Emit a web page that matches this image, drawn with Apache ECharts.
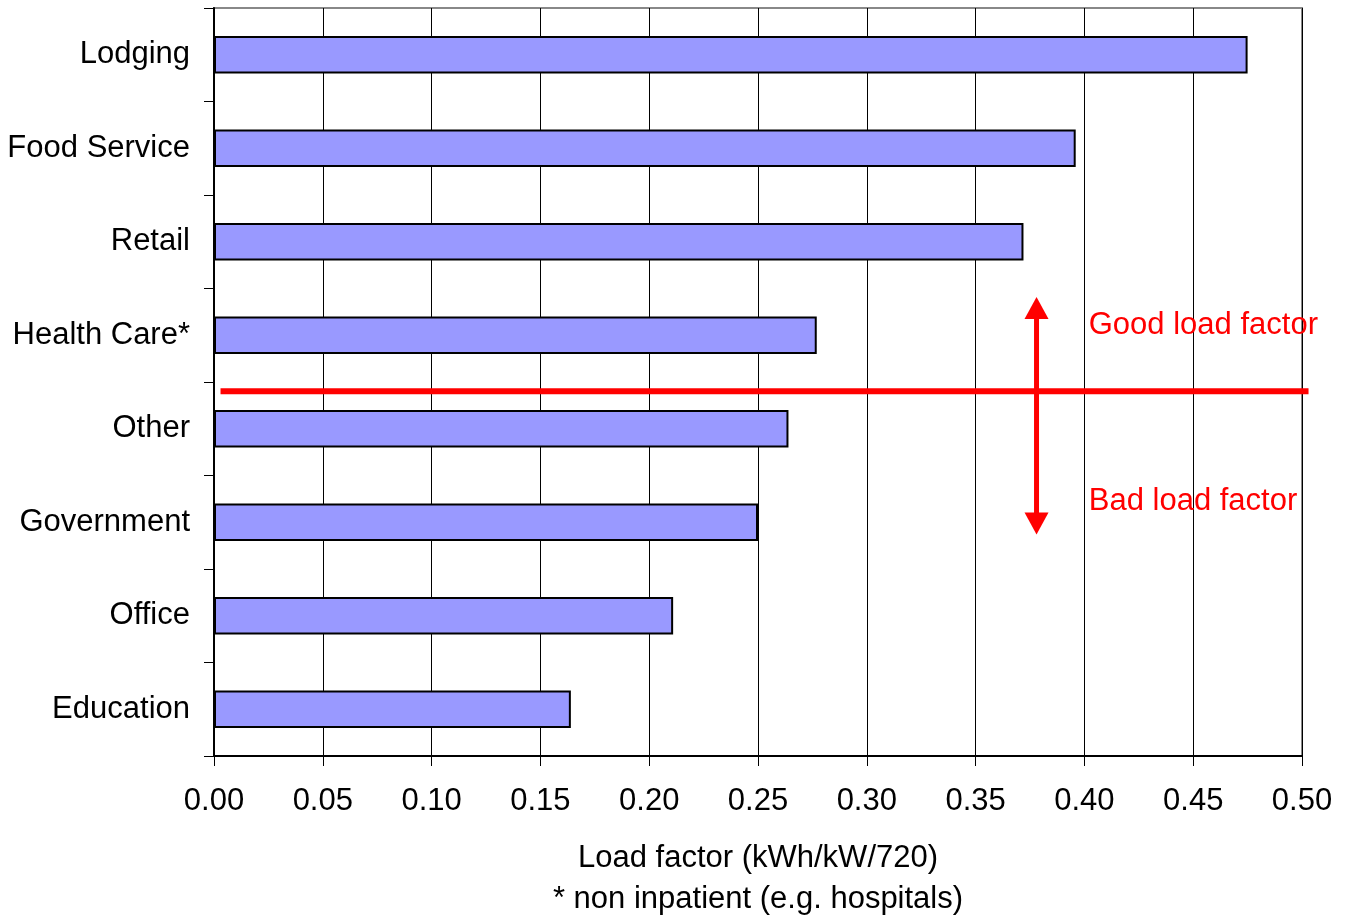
<!DOCTYPE html>
<html>
<head>
<meta charset="utf-8">
<script src="https://cdn.jsdelivr.net/npm/echarts@6/dist/echarts.min.js"></script>
<style>html,body{margin:0;padding:0;background:#fff}#c{width:1347px;height:916px}</style>
</head>
<body>
<div id="c"></div>
<script>
var categories = ['Lodging', 'Food Service', 'Retail', 'Health Care*', 'Other', 'Government', 'Office', 'Education'];
var loadFactor = [0.475, 0.396, 0.372, 0.277, 0.264, 0.250, 0.211, 0.164];
var xTicks = {min: 0, max: 0.5, interval: 0.05};
// annotation anchors in data units (x value, category index position)
var dividerLine = {x0: 0.003, x1: 0.503, y: 3.6};
var arrowAnno = {x: 0.378, yTop: 2.59, yBottom: 5.13};
var goodLabel = {text: 'Good load factor', x: 0.402, y: 2.89};
var badLabel = {text: 'Bad load factor', x: 0.402, y: 4.78};

var FONT = 'Liberation Sans, Arial, sans-serif';
var FS = 31;
var chart = echarts.init(document.getElementById('c'));
chart.setOption({
  backgroundColor: '#fff',
  animation: false,
  grid: {left: 214, top: 8, right: 45, bottom: 160, containLabel: false, outerBoundsMode: 'none', show: true, borderColor: '#888', borderWidth: 2, backgroundColor: 'transparent'},
  xAxis: {
    type: 'value', min: xTicks.min, max: xTicks.max, interval: xTicks.interval,
    axisLine: {show: true, lineStyle: {color: '#000', width: 2}},
    axisTick: {show: true, length: 10, lineStyle: {color: '#000', width: 1}},
    axisLabel: {color: '#000', fontFamily: FONT, fontSize: FS, margin: 30, formatter: function (v) { return v.toFixed(2); }},
    splitLine: {show: true, lineStyle: {color: '#000', width: 1}},
    name: 'Load factor (kWh/kW/720)\n* non inpatient (e.g. hospitals)',
    nameLocation: 'middle', nameGap: 82,
    nameTextStyle: {color: '#000', fontFamily: FONT, fontSize: FS, lineHeight: 41}
  },
  yAxis: {
    type: 'category', data: categories, inverse: true,
    axisLine: {show: true, lineStyle: {color: '#000', width: 2}},
    axisTick: {show: true, length: 10, lineStyle: {color: '#000', width: 1}},
    axisLabel: {color: '#000', fontFamily: FONT, fontSize: FS, margin: 24},
    splitLine: {show: false}
  },
  series: [{
    type: 'bar', data: loadFactor, barWidth: '40%',
    itemStyle: {color: '#9999ff', borderColor: '#000', borderWidth: 2}
  }]
});

function yPix(idx) {
  var a = chart.convertToPixel({yAxisIndex: 0}, categories[0]);
  var b = chart.convertToPixel({yAxisIndex: 0}, categories[1]);
  return a + (b - a) * idx;
}
function xPix(v) { return chart.convertToPixel({xAxisIndex: 0}, v); }

var ax = xPix(arrowAnno.x), ay0 = yPix(arrowAnno.yTop), ay1 = yPix(arrowAnno.yBottom);
var head = 22, hw = 12;
chart.setOption({
  graphic: [
    {type: 'line', z: 100, shape: {x1: xPix(dividerLine.x0), y1: yPix(dividerLine.y), x2: xPix(dividerLine.x1), y2: yPix(dividerLine.y)}, style: {stroke: '#ff0000', lineWidth: 6}},
    {type: 'line', z: 100, shape: {x1: ax, y1: ay0 + head - 2, x2: ax, y2: ay1 - head + 2}, style: {stroke: '#ff0000', lineWidth: 5}},
    {type: 'polygon', z: 100, shape: {points: [[ax, ay0], [ax - hw, ay0 + head], [ax + hw, ay0 + head]]}, style: {fill: '#ff0000'}},
    {type: 'polygon', z: 100, shape: {points: [[ax, ay1], [ax - hw, ay1 - head], [ax + hw, ay1 - head]]}, style: {fill: '#ff0000'}},
    {type: 'text', z: 100, x: xPix(goodLabel.x), y: yPix(goodLabel.y), style: {text: goodLabel.text, fill: '#ff0000', font: FS + 'px ' + FONT, textVerticalAlign: 'middle', verticalAlign: 'middle'}},
    {type: 'text', z: 100, x: xPix(badLabel.x), y: yPix(badLabel.y), style: {text: badLabel.text, fill: '#ff0000', font: FS + 'px ' + FONT, textVerticalAlign: 'middle', verticalAlign: 'middle'}}
  ]
});
</script>
</body>
</html>
